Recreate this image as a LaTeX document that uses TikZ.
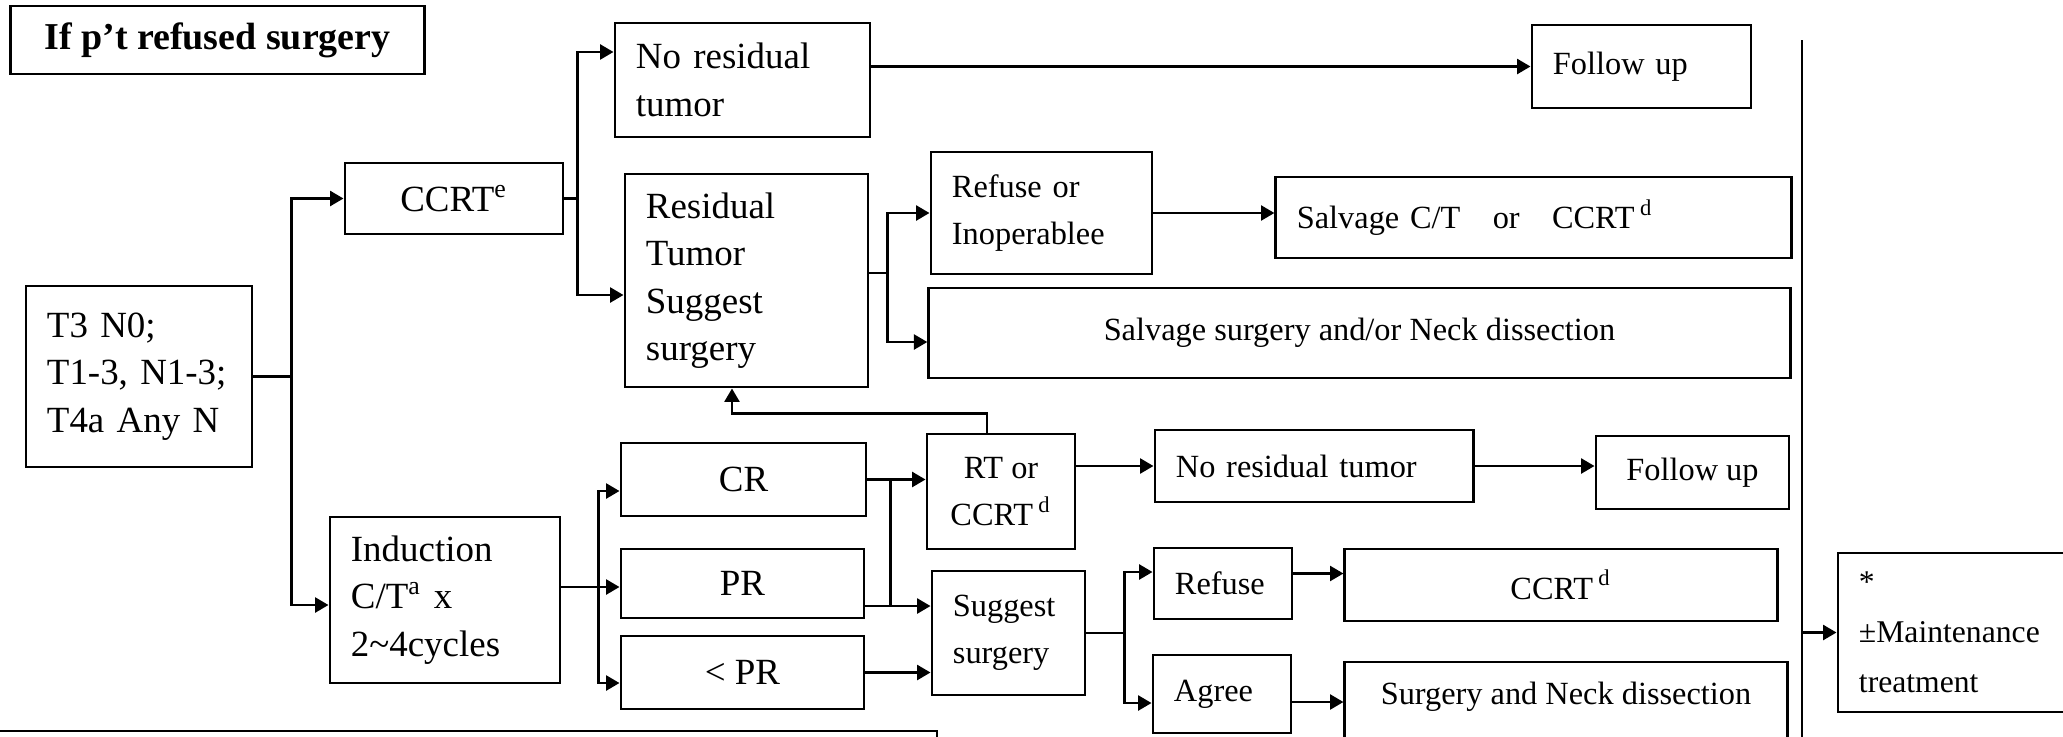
\documentclass[tikz,border=0pt]{standalone}
\usepackage{fontspec}
\setmainfont{Liberation Serif}
\usetikzlibrary{arrows.meta}

\begin{document}
\begin{tikzpicture}[thick, x=0.01cm, y=-0.01cm, >={Triangle[length=3.8pt, width=4.2pt]}]

    \tikzset{block/.style={%
      draw,%
      rectangle,%
      inner sep=0pt,%
      align=center,%
      font=\fontsize{10.5}{13.5}\selectfont}%
    };

    \tikzset{smallblock/.style={block, font=\fontsize{9.2}{13.5}\selectfont}};
    \tikzset{lefttext/.style={align=left, inner xsep=0.21cm, text width=#1}};

    \useasboundingbox (0, 0) rectangle (2063, 736);
    \clip (0, 0) rectangle (2063, 736);

    %%%%%%%%%%%%%%%
    %   entry     %
    %%%%%%%%%%%%%%%
    \path (217.5, 40) node [block, minimum width=4.13cm, minimum height=0.68cm,
      font=\fontsize{10.8}{13.5}\selectfont\bfseries] (title) {If p’t refused surgery};
    \path (139, 376.5) node [block, lefttext=1.84cm, minimum width=2.26cm, minimum height=1.81cm]
      (stage) {T3 N0;\\T1-3, N1-3;\\T4a Any N};
    \path (454, 198.5) node [block, minimum width=2.18cm, minimum height=0.71cm]
      (ccrt) {CCRT\textsuperscript{e}};
    \path (445, 600) node [block, lefttext=1.88cm, minimum width=2.30cm, minimum height=1.66cm]
      (induct) {Induction\\C/T\textsuperscript{a} x\\2\textasciitilde4cycles};

    %%%%%%%%%%%%%%%
    %   CCRT      %
    %%%%%%%%%%%%%%%
    \path (742.5, 80) node [block, lefttext=2.13cm, minimum width=2.55cm, minimum height=1.14cm]
      (nores) {No residual\\tumor};
    \path (746.5, 280.5) node [block, lefttext=2.01cm, minimum width=2.43cm, minimum height=2.13cm]
      (resid) {Residual\\Tumor\\Suggest\\surgery};
    \path (1641.5, 66.5) node [smallblock, lefttext=1.77cm, minimum width=2.19cm, minimum height=0.83cm]
      (fuA) {Follow up};
    \path (1041.5, 213) node [smallblock, lefttext=1.79cm, minimum width=2.21cm, minimum height=1.22cm]
      (refin) {Refuse or\\Inoperablee};
    \path (1533.5, 217.5) node [smallblock, lefttext=4.73cm, minimum width=5.15cm, minimum height=0.81cm]
      (salvct) {Salvage C/T\quad or\quad CCRT\,\textsuperscript{d}};
    \path (1359.5, 333) node [smallblock, minimum width=8.61cm, minimum height=0.90cm]
      (salvsurg) {Salvage surgery and/or Neck dissection};

    %%%%%%%%%%%%%%%
    %  induction  %
    %%%%%%%%%%%%%%%
    \path (743.5, 479.5) node [block, minimum width=2.45cm, minimum height=0.73cm] (cr) {CR};
    \path (742.5, 583.5) node [block, minimum width=2.43cm, minimum height=0.69cm] (pr) {PR};
    \path (742.5, 672.5) node [block, minimum width=2.43cm, minimum height=0.73cm] (lpr) {< PR};
    \path (1001, 491.5) node [smallblock, minimum width=1.48cm, minimum height=1.15cm]
      (rt) {RT or\\CCRT\,\textsuperscript{d}};
    \path (1008.5, 633) node [smallblock, lefttext=1.11cm, minimum width=1.53cm, minimum height=1.24cm]
      (sugg) {Suggest\\surgery};
    \path (1314, 466) node [smallblock, lefttext=2.76cm, minimum width=3.18cm, minimum height=0.72cm]
      (noresB) {No residual tumor};
    \path (1692.5, 472.5) node [smallblock, minimum width=1.93cm, minimum height=0.73cm] (fuB) {Follow up};
    \path (1223, 583.5) node [smallblock, lefttext=0.96cm, minimum width=1.38cm, minimum height=0.71cm]
      (refuse) {Refuse};
    \path (1222, 694) node [smallblock, lefttext=0.96cm, minimum width=1.38cm, minimum height=0.78cm]
      (agree) {Agree};
    \path (1561, 585) node [smallblock, minimum width=4.32cm, minimum height=0.72cm]
      (ccrtB) {CCRT\,\textsuperscript{d}};
    \path (1566, 706) node [draw, inner sep=0pt, font=\fontsize{9.2}{13.5}\selectfont,
      text depth=0.25cm, minimum width=4.42cm, minimum height=0.88cm]
      (surgnd) {Surgery and Neck dissection};

    %%%%%%%%%%%%%%%
    %  right side %
    %%%%%%%%%%%%%%%
    \path (1963, 632.5) node [block, lefttext=2.08cm, minimum width=2.5cm, minimum height=1.59cm,
      font=\fontsize{9}{14.2}\selectfont] (maint) {*\\±Maintenance\\treatment};
    \coordinate (vtop) at (1802, 40);
    \coordinate (vbot) at (1802, 745);
    \coordinate (bl) at (0, 731);
    \coordinate (br) at (937, 731);

    \draw [->] (stage.east) -- ++(38, 0) coordinate (jst) |- (ccrt.west);
    \draw [->] (jst) |- ([yshift=-0.05cm]induct.west);

    \draw [->] (ccrt.east) -- ++(13, 0) coordinate (jcc) |- ([yshift=0.28cm]nores.west);
    \draw [->] (jcc) |- ([yshift=-0.145cm]resid.west);
    \draw [->] (nores.east |- fuA.west) -- (fuA.west);

    \draw [->] ([yshift=0.075cm]resid.east) -- ++(18, 0) coordinate (jre) |- (refin.west);
    \draw [->] (jre) |- ([yshift=-0.09cm]salvsurg.west);
    \draw [->] (refin.east) -- (refin.east -| salvct.west);

    \draw [->] ([yshift=0.13cm]induct.east) -- ++(37, 0) coordinate (jin) |- ([yshift=-0.115cm]cr.west);
    \draw [->] (jin) |- ([yshift=-0.035cm]pr.west);
    \draw [->] (jin) |- ([yshift=-0.105cm]lpr.west);

    \draw [->] (cr.east) -- (cr.east -| rt.west);
    \draw [->] ([yshift=-0.225cm]pr.east) -- ([yshift=-0.225cm]pr.east -| sugg.west);
    \draw ([xshift=0.23cm]cr.east) -- ([xshift=0.25cm, yshift=-0.225cm]pr.east);
    \draw [->] (lpr.east) -- (lpr.east -| sugg.west);

    \draw [->] ([xshift=-0.14cm]rt.north) -- ++(0, -19) -| ([xshift=-0.145cm]resid.south);
    \draw [->] (rt.east |- noresB.west) -- (noresB.west);
    \draw [->] (noresB.east) -- (noresB.east -| fuB.west);

    \draw [->] (sugg.east) -- ++(38, 0) coordinate (jsu) |- ([yshift=0.115cm]refuse.west);
    \draw [->] (jsu) |- ([yshift=-0.09cm]agree.west);
    \draw [->] ([yshift=0.1cm]refuse.east) -- ([yshift=0.1cm]refuse.east -| ccrtB.west);
    \draw [->] ([yshift=-0.08cm]agree.east) -- ([yshift=-0.08cm]agree.east -| surgnd.west);

    \draw (vtop) -- (vbot);
    \draw [->] (vtop |- maint.west) -- (maint.west);
    \draw (bl) -- (br) -- ++(0, 15);

  \end{tikzpicture}
\end{document}
